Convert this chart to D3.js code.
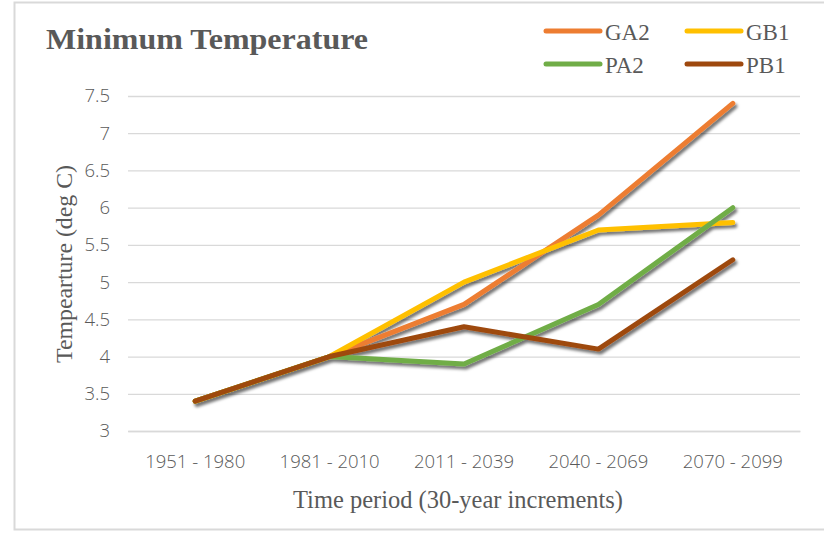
<!DOCTYPE html>
<html>
<head>
<meta charset="utf-8">
<script src="https://cdn.jsdelivr.net/npm/d3@7"></script>
<style>
  body { margin: 0; background: #fff; }
</style>
</head>
<body>
<div id="chart"></div>
<script>
  const periods = ["1951 - 1980", "1981 - 2010", "2011 - 2039", "2040 - 2069", "2070 - 2099"];
  const seriesNames = ["GA2", "GB1", "PA2", "PB1"];
  const ga2 = [3.4, 4.0, 4.7, 5.9, 7.4];
  const gb1 = [3.4, 4.0, 5.0, 5.7, 5.8];
  const pa2 = [3.4, 4.0, 3.9, 4.7, 6.0];
  const pb1 = [3.4, 4.0, 4.4, 4.1, 5.3];
  const yTicks = [3, 3.5, 4, 4.5, 5, 5.5, 6, 6.5, 7, 7.5];
  const colors = ["#ED7D31", "#FFC000", "#70AD47", "#9E480E"];

  const series = [ga2, gb1, pa2, pb1].map((vals, i) => ({ name: seriesNames[i], values: vals, color: colors[i] }));

  const svg = d3.select("#chart")
    .append("svg")
    .attr("width", 824)
    .attr("height", 533);

  // shadow like the office chart
  const defs = svg.append("defs");
  const f = defs.append("filter").attr("id", "shadow")
    .attr("x", "-10%").attr("y", "-10%").attr("width", "130%").attr("height", "130%");
  f.append("feDropShadow")
    .attr("dx", 2).attr("dy", 3).attr("stdDeviation", 1.8)
    .attr("flood-color", "#000").attr("flood-opacity", 0.55);

  // outer frame
  svg.append("rect")
    .attr("x", 14.5).attr("y", 2.5)
    .attr("width", 830).attr("height", 527)
    .attr("fill", "#fff")
    .attr("stroke", "#d9d9d9")
    .attr("stroke-width", 2);

  const margin = { top: 96, right: 24, bottom: 102, left: 128 };
  const width = 824 - margin.left - margin.right;
  const height = 533 - margin.top - margin.bottom;

  const x = d3.scaleBand().domain(periods).range([0, width]);
  const y = d3.scaleLinear().domain([3, 7.5]).range([height, 0]);

  const g = svg.append("g").attr("transform", `translate(${margin.left},${margin.top})`);

  const tickFont = a => a.selectAll("text")
    .attr("fill", "#595959")
    .style("font-family", "'Open Sans', 'Liberation Sans', sans-serif")
    .style("font-weight", 300)
    .style("font-size", "18.5px");

  // gridlines
  g.append("g")
    .call(d3.axisLeft(y).tickValues(yTicks).tickSize(-width).tickFormat(""))
    .call(a => a.select(".domain").remove())
    .call(a => a.selectAll("line").attr("stroke", "#d9d9d9").attr("stroke-width", 1.3));

  // y tick labels
  g.append("g")
    .call(d3.axisLeft(y).tickValues(yTicks).tickSize(0).tickPadding(18).tickFormat(d3.format("")))
    .call(a => a.select(".domain").remove())
    .call(tickFont);

  // x axis
  g.append("g")
    .attr("transform", `translate(0,${height})`)
    .call(d3.axisBottom(x).tickSize(0).tickPadding(24))
    .call(a => a.select(".domain").attr("stroke", "#d9d9d9").attr("stroke-width", 1.3))
    .call(tickFont);

  // lines
  const line = d3.line()
    .x((d, i) => x(periods[i]) + x.bandwidth() / 2)
    .y(d => y(d));

  g.append("g").attr("filter", "url(#shadow)")
    .selectAll("path")
    .data(series)
    .join("path")
    .attr("d", d => line(d.values))
    .attr("fill", "none")
    .attr("stroke", d => d.color)
    .attr("stroke-width", 5)
    .attr("stroke-linecap", "round")
    .attr("stroke-linejoin", "round");

  // title
  svg.append("text")
    .attr("x", 46).attr("y", 49)
    .attr("fill", "#595959")
    .attr("textLength", 322)
    .attr("lengthAdjust", "spacingAndGlyphs")
    .style("font-family", "'Liberation Serif', serif")
    .style("font-weight", "bold")
    .style("font-size", "30px")
    .text("Minimum Temperature");

  // axis titles
  svg.append("text")
    .attr("x", 293).attr("y", 508)
    .attr("fill", "#595959")
    .attr("textLength", 330)
    .attr("lengthAdjust", "spacingAndGlyphs")
    .style("font-family", "'Liberation Serif', serif")
    .style("font-size", "25px")
    .text("Time period (30-year increments)");

  svg.append("text")
    .attr("transform", "translate(72,363) rotate(-90)")
    .attr("fill", "#595959")
    .attr("textLength", 198)
    .attr("lengthAdjust", "spacingAndGlyphs")
    .style("font-family", "'Liberation Serif', serif")
    .style("font-size", "23px")
    .text("Tempearture (deg C)");

  // legend
  const legend = svg.append("g");
  const lg = legend.selectAll("g")
    .data(series)
    .join("g")
    .attr("transform", (d, i) => `translate(${546 + (i % 2) * 141},${31 + Math.floor(i / 2) * 33})`);
  lg.append("line")
    .attr("x1", 0).attr("x2", 54)
    .attr("stroke", d => d.color)
    .attr("stroke-width", 5)
    .attr("stroke-linecap", "round");
  lg.append("text")
    .attr("x", 59).attr("y", 9)
    .attr("fill", "#595959")
    .style("font-family", "'Liberation Serif', serif")
    .style("font-size", "23px")
    .text(d => d.name);
</script>
</body>
</html>
